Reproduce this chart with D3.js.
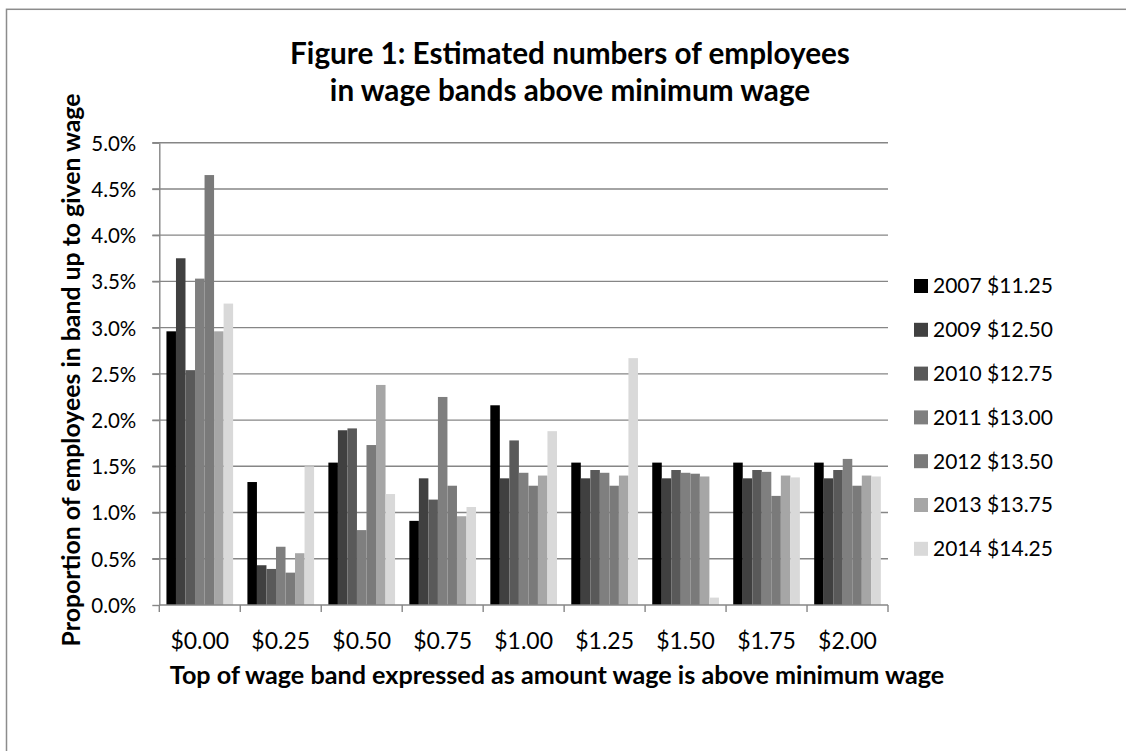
<!DOCTYPE html>
<html>
<head>
<meta charset="utf-8">
<script src="https://cdn.jsdelivr.net/npm/d3@7"></script>
<style>
  html, body { margin: 0; padding: 0; background: #fff; }
  svg { display: block; font-family: Lato, "Open Sans", sans-serif; }
</style>
</head>
<body>
<svg id="chart" width="1126" height="751"></svg>
<script>
// Wage bands (top of band, above minimum wage)
const categories = ["$0.00", "$0.25", "$0.50", "$0.75", "$1.00", "$1.25", "$1.50", "$1.75", "$2.00"];

// Survey year and minimum wage in force
const seriesNames = ["2007 $11.25", "2009 $12.50", "2010 $12.75", "2011 $13.00", "2012 $13.50", "2013 $13.75", "2014 $14.25"];

// Proportion of employees in each band (%)
const v2007 = [2.96, 1.33, 1.54, 0.91, 2.16, 1.54, 1.54, 1.54, 1.54];
const v2009 = [3.75, 0.43, 1.89, 1.37, 1.37, 1.37, 1.37, 1.37, 1.37];
const v2010 = [2.54, 0.39, 1.91, 1.14, 1.78, 1.46, 1.46, 1.46, 1.46];
const v2011 = [3.53, 0.63, 0.81, 2.25, 1.43, 1.43, 1.43, 1.44, 1.58];
const v2012 = [4.65, 0.35, 1.73, 1.29, 1.29, 1.29, 1.42, 1.18, 1.29];
const v2013 = [2.96, 0.56, 2.38, 0.96, 1.40, 1.40, 1.39, 1.40, 1.40];
const v2014 = [3.26, 1.50, 1.20, 1.06, 1.88, 2.67, 0.08, 1.38, 1.39];

const yTicks = [0, 0.5, 1.0, 1.5, 2.0, 2.5, 3.0, 3.5, 4.0, 4.5, 5.0];

const seriesValues = [v2007, v2009, v2010, v2011, v2012, v2013, v2014];
const colors = ["#000000", "#404040", "#595959", "#7f7f7f", "#7a7a7a", "#a6a6a6", "#d9d9d9"];

const svg = d3.select("#chart");
const gridColor = "#868686";

// scale a text element's font size so it spans the given width
function fitWidth(sel, width) {
  const fs = parseFloat(sel.attr("font-size"));
  const w = sel.node().getComputedTextLength();
  sel.attr("font-size", fs * width / w);
}

// outer chart frame
svg.append("rect")
  .attr("x", 6.5).attr("y", 9.3)
  .attr("width", 1200).attr("height", 800)
  .attr("fill", "none").attr("stroke", "#8c8c8c").attr("stroke-width", 1.5);

const plot = { left: 159.3, right: 888, top: 142.7, bottom: 605 };

const x = d3.scaleBand().domain(categories).range([plot.left, plot.right]).padding(0);
const xs = d3.scaleBand().domain(seriesNames).range([0, x.bandwidth()])
  .paddingInner(0).paddingOuter(0.75);
const y = d3.scaleLinear().domain([0, 5]).range([plot.bottom, plot.top]);

// horizontal gridlines (with short outward ticks on the left)
svg.append("g").selectAll("line").data(yTicks.filter(d => d > 0)).join("line")
  .attr("x1", plot.left - 7).attr("x2", plot.right)
  .attr("y1", d => y(d)).attr("y2", d => y(d))
  .attr("stroke", gridColor).attr("stroke-width", 1.4);

// bars
const rows = categories.map((c, i) => ({ cat: c, vals: seriesNames.map((s, j) => ({ s, j, v: seriesValues[j][i] })) }));
svg.append("g").selectAll("g").data(rows).join("g")
  .attr("transform", d => `translate(${x(d.cat)},0)`)
  .selectAll("rect").data(d => d.vals).join("rect")
  .attr("x", d => xs(d.s))
  .attr("width", xs.bandwidth())
  .attr("y", d => y(d.v))
  .attr("height", d => y(0) - y(d.v))
  .attr("fill", d => colors[d.j]);

// y axis
const yAxis = d3.axisLeft(y).tickValues(yTicks).tickSize(7).tickSizeOuter(0)
  .tickFormat(d => d.toFixed(1) + "%");
const gy = svg.append("g").attr("transform", `translate(${plot.left},0)`).call(yAxis);
gy.select(".domain").attr("stroke", gridColor).attr("stroke-width", 1.4);
gy.selectAll(".tick line").attr("stroke", gridColor).attr("stroke-width", 1.4);
gy.selectAll(".tick text")
  .attr("x", -23).attr("dy", "0.36em")
  .attr("font-size", 20.5).attr("fill", "#000")
  .attr("font-family", "Lato, sans-serif");

// x axis: line, boundary ticks, centred labels
const gx = svg.append("g").attr("transform", `translate(0,${plot.bottom})`);
gx.append("line").attr("x1", plot.left).attr("x2", plot.right)
  .attr("stroke", gridColor).attr("stroke-width", 1.4);
const bounds = categories.map(c => x(c)).concat([x.range()[1]]);
gx.selectAll("line.tk").data(bounds).join("line").attr("class", "tk")
  .attr("x1", d => d).attr("x2", d => d).attr("y1", 0).attr("y2", 7)
  .attr("stroke", gridColor).attr("stroke-width", 1.4);
gx.selectAll("text").data(categories).join("text")
  .attr("x", d => x(d) + x.bandwidth() / 2)
  .attr("y", 44)
  .attr("text-anchor", "middle")
  .attr("font-size", 23).attr("fill", "#000")
  .text(d => d);

// chart title, two centred lines
const t1 = svg.append("text").attr("x", 570).attr("y", 64)
  .attr("text-anchor", "middle").attr("font-weight", "bold")
  .attr("font-size", 24).attr("fill", "#000")
  .text("Figure 1: Estimated numbers of employees");
fitWidth(t1, 560);
svg.append("text").attr("x", 570).attr("y", 101)
  .attr("text-anchor", "middle").attr("font-weight", "bold")
  .attr("font-size", t1.attr("font-size")).attr("fill", "#000")
  .text("in wage bands above minimum wage");

const xt = svg.append("text")
  .attr("x", 557).attr("y", 684)
  .attr("text-anchor", "middle").attr("font-weight", "bold")
  .attr("font-size", 22).attr("fill", "#000")
  .text("Top of wage band expressed as amount wage is above minimum wage");
fitWidth(xt, 775);

const yt = svg.append("text")
  .attr("transform", "translate(80,370) rotate(-90)")
  .attr("text-anchor", "middle").attr("font-weight", "bold")
  .attr("font-size", 22).attr("fill", "#000")
  .text("Proportion of employees in band up to given wage");
fitWidth(yt, 553);

// legend
const legend = svg.append("g").attr("transform", "translate(914,279)");
const li = legend.selectAll("g").data(seriesNames).join("g")
  .attr("transform", (d, i) => `translate(0,${i * 43.8})`);
li.append("rect").attr("width", 14).attr("height", 14).attr("fill", (d, i) => colors[i]);
li.append("text").attr("x", 19).attr("y", 14.3)
  .attr("font-size", 21).attr("fill", "#000").text(d => d);
</script>
</body>
</html>
